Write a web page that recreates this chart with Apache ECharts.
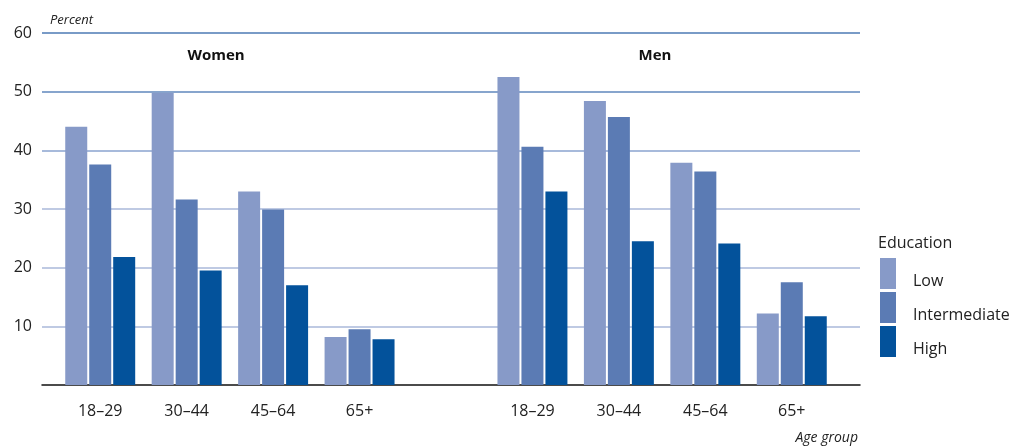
<!DOCTYPE html>
<html>
<head>
<meta charset="utf-8">
<script src="https://cdn.jsdelivr.net/npm/echarts@6/dist/echarts.min.js"></script>
<style>
  html, body { margin: 0; padding: 0; background: #fff; }
  #chartDiv { width: 1024px; height: 448px; }
</style>
</head>
<body>
<div id="chartDiv"></div>
<script type="text/javascript">
  // age groups, women first then men, with an empty slot between
  var ageGroups = ['18–29', '30–44', '45–64', '65+', '', '18–29', '30–44', '45–64', '65+'];
  var lowEdu = [44.0, 49.8, 33.0, 8.2, '-', 52.5, 48.4, 37.9, 12.2];
  var intermediateEdu = [37.6, 31.6, 29.9, 9.5, '-', 40.6, 45.7, 36.4, 17.5];
  var highEdu = [21.8, 19.5, 17.0, 7.8, '-', 33.0, 24.5, 24.1, 11.7];
  var yTicks = [0, 10, 20, 30, 40, 50, 60];

  var fontName = 'Open Sans';
  var myChart = echarts.init(document.getElementById('chartDiv'), null, { renderer: 'canvas' });

  var option = {
    animation: false,
    textStyle: { fontFamily: fontName },
    title: [
      { text: 'Percent', left: 45, top: 9,
        textStyle: { fontSize: 13, fontStyle: 'italic', fontWeight: 'normal', color: '#222', fontFamily: fontName } },
      { text: 'Women', left: 211, top: 43, textAlign: 'center',
        textStyle: { fontSize: 15, fontWeight: 'bold', color: '#111', fontFamily: fontName } },
      { text: 'Men', left: 650, top: 43, textAlign: 'center',
        textStyle: { fontSize: 15, fontWeight: 'bold', color: '#111', fontFamily: fontName } },
      { text: 'Age group', right: 161, top: 426,
        textStyle: { fontSize: 14, fontStyle: 'italic', fontWeight: 'normal', color: '#222', fontFamily: fontName } },
      { text: 'Education', left: 873, top: 230,
        textStyle: { fontSize: 16, fontWeight: 'normal', color: '#222', fontFamily: fontName } }
    ],
    legend: {
      orient: 'vertical',
      left: 880,
      top: 258,
      padding: 0,
      itemWidth: 16,
      itemHeight: 31,
      itemGap: 3,
      icon: 'rect',
      // empty first line pushes the label a bit below the swatch centre
      formatter: function (name) { return '\n' + name; },
      textStyle: { fontSize: 16, lineHeight: 15, color: '#222', padding: [0, 0, 0, 12], fontFamily: fontName },
      data: ['Low', 'Intermediate', 'High']
    },
    grid: [
      { left: 42, right: 164, top: 33, bottom: 63 },
      { left: 57, width: 778, top: 33, bottom: 63 }
    ],
    xAxis: [
      {
        gridIndex: 0, type: 'value', min: 0, max: 1,
        axisLine: { show: true, lineStyle: { color: '#111', width: 1.5 } },
        axisTick: { show: false }, axisLabel: { show: false }, splitLine: { show: false }
      },
      {
        gridIndex: 1, type: 'category', data: ageGroups,
        axisLine: { show: false }, axisTick: { show: false },
        axisLabel: { fontSize: 16, color: '#222', margin: 18, fontFamily: fontName }
      }
    ],
    yAxis: [
      {
        gridIndex: 0, type: 'value', min: yTicks[0], max: yTicks[yTicks.length - 1], interval: 10,
        axisLine: { show: false }, axisTick: { show: false },
        axisLabel: {
          fontSize: 16, color: '#222', margin: 10, fontFamily: fontName,
          formatter: function (v) { return v === 0 ? '' : v + ''; }
        },
        splitLine: {
          lineStyle: {
            width: 1.5,
            color: ['#ffffff', '#aab8da', '#aab8da', '#aab8da', '#8aa3cf', '#5f87bd', '#4d7ab5']
          }
        }
      },
      {
        gridIndex: 1, type: 'value', min: 0, max: 60, interval: 10, show: false
      }
    ],
    series: [
      {
        name: 'Low', type: 'bar', xAxisIndex: 1, yAxisIndex: 1,
        barWidth: 22, barGap: '9%',
        itemStyle: { color: '#879ac8' },
        data: lowEdu
      },
      {
        name: 'Intermediate', type: 'bar', xAxisIndex: 1, yAxisIndex: 1,
        barWidth: 22, barGap: '9%',
        itemStyle: { color: '#5b7bb4' },
        data: intermediateEdu
      },
      {
        name: 'High', type: 'bar', xAxisIndex: 1, yAxisIndex: 1,
        barWidth: 22, barGap: '9%',
        itemStyle: { color: '#03529b' },
        data: highEdu
      }
    ]
  };
  myChart.setOption(option);
</script>
</body>
</html>
